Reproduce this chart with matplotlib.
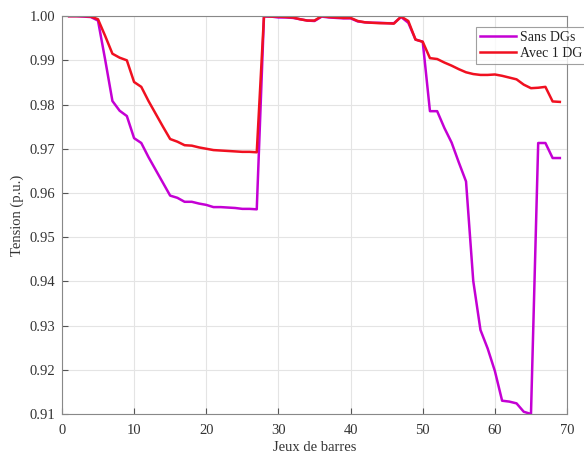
import matplotlib

matplotlib.use("Agg")
import matplotlib.pyplot as plt
import numpy as np

plt.rcParams["font.family"] = ["Liberation Serif", "DejaVu Serif"]

# bus voltages (p.u.), 69-bus feeder
buses = np.arange(1, 70)
sans_dg = [
    1.0000, 1.0000, 0.9999, 0.9998, 0.9990, 0.9901, 0.9808, 0.9786, 0.9774, 0.9724,
    0.9713, 0.9681, 0.9652, 0.9623, 0.9594, 0.9589, 0.9580, 0.9580, 0.9576, 0.9573,
    0.9568, 0.9568, 0.9567, 0.9566, 0.9564, 0.9564, 0.9563, 0.9999, 0.9999, 0.9997,
    0.9997, 0.9996, 0.9993, 0.9990, 0.9989, 0.9999, 0.9997, 0.9996, 0.9995, 0.9995,
    0.9988, 0.9986, 0.9985, 0.9985, 0.9984, 0.9984, 0.9998, 0.9985, 0.9947, 0.9942,
    0.9785, 0.9785, 0.9747, 0.9714, 0.9669, 0.9626, 0.9401, 0.9290, 0.9248, 0.9197,
    0.9130, 0.9128, 0.9124, 0.9105, 0.9100, 0.9713, 0.9713, 0.9679, 0.9679,
]
avec_1dg = [
    1.0000, 1.0000, 1.0000, 0.9999, 0.9993, 0.9955, 0.9915, 0.9906, 0.9900, 0.9851,
    0.9840, 0.9808, 0.9779, 0.9750, 0.9722, 0.9716, 0.9708, 0.9707, 0.9703, 0.9700,
    0.9697, 0.9696, 0.9695, 0.9694, 0.9693, 0.9693, 0.9692, 1.0000, 0.9999, 0.9999,
    0.9998, 0.9997, 0.9993, 0.9990, 0.9990, 1.0000, 0.9998, 0.9997, 0.9996, 0.9996,
    0.9989, 0.9986, 0.9985, 0.9984, 0.9984, 0.9983, 0.9999, 0.9989, 0.9947, 0.9942,
    0.9905, 0.9903, 0.9895, 0.9888, 0.9880, 0.9873, 0.9869, 0.9867, 0.9867, 0.9868,
    0.9865, 0.9861, 0.9857, 0.9845, 0.9837, 0.9838, 0.9840, 0.9807, 0.9806,
]

fig = plt.figure(figsize=(5.84, 4.61), dpi=100)
ax = fig.add_axes([0.106, 0.102, 0.865, 0.863])

ax.plot(buses, sans_dg, color="#c400d4", lw=1.8, label="Sans DGs")
ax.plot(buses, avec_1dg, color="#f01020", lw=1.8, label="Avec 1 DG")

ax.set_xlim(0, 70)
ax.set_ylim(0.91, 1.00)
ax.set_xticks(np.arange(0, 71, 10))
ax.set_yticks(np.arange(0.91, 1.0001, 0.01))
ax.yaxis.set_major_formatter(matplotlib.ticker.FormatStrFormatter("%.2f"))
ax.grid(color="#e4e4e4", lw=0.8)
ax.tick_params(direction="in", colors="#555555", labelsize=10.5, labelcolor="#333333", length=4)
ax.tick_params(axis="x", pad=7)
ax.tick_params(axis="y", pad=5)
for sp in ax.spines.values():
    sp.set_color("#888888")
    sp.set_linewidth(0.8)

ax.set_xlabel("Jeux de barres", fontsize=10.5, color="#333333", labelpad=3)
ax.set_ylabel("Tension (p.u.)", fontsize=10.5, color="#333333", labelpad=4)

leg = ax.legend(loc="upper left", bbox_to_anchor=(0.805, 0.99), fontsize=10,
                frameon=True, fancybox=False, edgecolor="#888888", handlelength=2.6,
                borderpad=0.3, labelspacing=0.2, handletextpad=0.3)
leg.get_frame().set_linewidth(0.8)
for t in leg.get_texts():
    t.set_color("#222222")

fig.savefig("out.png", dpi=100)
